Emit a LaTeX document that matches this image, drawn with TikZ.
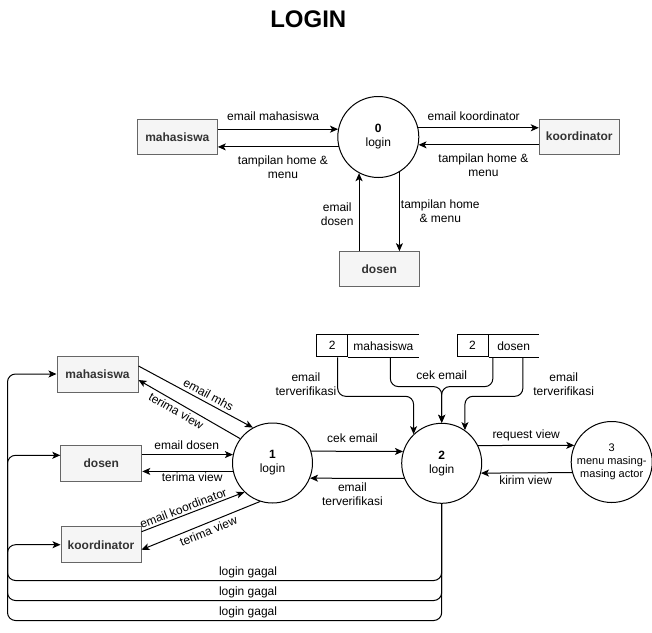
\documentclass[tikz,border=0pt]{standalone}
\usepackage{fontspec}
\setmainfont{Liberation Sans}
\usetikzlibrary{arrows.meta,positioning}
\definecolor{BoxFill}{HTML}{F5F5F5}
\definecolor{BoxLine}{HTML}{666666}
\definecolor{BoxText}{HTML}{333333}

\begin{document}
\begin{tikzpicture}[x=1pt, y=-1pt, line width=1pt, every node/.style={font=\fontsize{12}{14}\selectfont}, entity/.style={draw=BoxLine, fill=BoxFill, text=BoxText, font=\fontsize{12}{14}\selectfont\bfseries, minimum width=80pt, minimum height=35pt, inner sep=0pt}, proc/.style={circle, draw, fill=white, minimum size=81pt, inner sep=0pt, align=center}, flow/.style={-{Stealth[length=8pt,width=7pt,inset=2pt]}}, lbl/.style={align=center, inner sep=1pt}, storeid/.style={draw, minimum width=31pt, minimum height=22pt, inner sep=0pt}, storename/.style={minimum width=#1, minimum height=22pt, inner sep=0pt}]
\useasboundingbox (0,0) rectangle (652,632);
\node[font=\fontsize{24}{28}\selectfont\bfseries] (title) at (308.3,19) {LOGIN};
% context diagram
\node[entity] (m0) at (177.3,137.2) {mahasiswa};
\node[proc] (c0) at (378.3,137) {\textbf{0}\\login};
\node[entity] (k0) at (579.3,136.7) {koordinator};
\node[entity] (d0) at (379.3,269.2) {dosen};
\draw[flow] (m0.east |- c0.169) -- node[lbl, above=7pt, pos=0.46] {email mahasiswa} (c0.169);
\draw[flow] (c0.194) -- node[lbl, below=7pt, pos=0.46] {tampilan home \&\\menu} (c0.194 -| m0.east);
\draw[flow] (c0.13) -- node[lbl, above=6pt, pos=0.46] {email koordinator} (c0.13 -| k0.west);
\draw[flow] (k0.west |- c0.349) -- node[lbl, below=7pt, pos=0.46] {tampilan home \&\\menu} (c0.349);
\draw[flow] (d0.north -| c0.242) -- node[lbl, left=4pt, pos=0.48] {email\\dosen} (c0.242);
\draw[flow] (c0.301) -- node[lbl, right=0pt, pos=0.5] {tampilan home\\\& menu} (c0.301 |- d0.north);
% level 1
\node[entity, minimum width=81pt, minimum height=36pt] (m1) at (97.5,374) {mahasiswa};
\node[entity, minimum width=81pt, minimum height=36pt] (d1) at (101.3,463.3) {dosen};
\node[entity, minimum height=36pt] (k1) at (101,544.7) {koordinator};
\node[proc, minimum size=80pt] (c1) at (272.5,463) {\textbf{1}\\login};
\node[proc, minimum size=80pt] (c2) at (441.7,463.3) {\textbf{2}\\login};
\node[proc, font=\fontsize{11}{13}\selectfont] (c3) at (611.7,462) {3\\menu masing-\\masing actor};
\node[storeid] (s1a) at (332.2,345.8) {2};
\node[storename=69.3pt, right=0pt of s1a] (s1b) {mahasiswa};
\node[storeid] (s2a) at (472.5,345.8) {2};
\node[storename=49.3pt, right=0pt of s2a] (s2b) {dosen};
\draw (s1a.north east) -- (s1b.north east) (s1a.south east) -- (s1b.south east);
\draw (s2a.north east) -- (s2b.north east) (s2a.south east) -- (s2b.south east);
\draw[flow] ([yshift=8pt]m1.east) -- node[lbl, sloped, above=2pt, pos=0.58] {email mhs} (c1.119);
\draw[flow] (c1.143) -- node[lbl, sloped, below=2pt, pos=0.59] {terima view} ([yshift=-6pt]m1.east);
\draw[flow] (d1.east |- c1.168) -- node[lbl, above=3pt, pos=0.49] {email dosen} (c1.168);
\draw[flow] (c1.192) -- node[lbl, below=0pt, pos=0.45] {terima view} (c1.192 -| d1.east);
\draw[flow] ([yshift=13pt]k1.east) -- node[lbl, sloped, above=1pt, pos=0.43] {email koordinator} (c1.226);
\draw[flow] (c1.252) -- node[lbl, sloped, below=2pt, pos=0.46] {terima view} ([yshift=-5pt]k1.east);
\draw[flow] (c1.17) -- node[lbl, above=7pt, pos=0.45] {cek email} (c2.163);
\draw[flow] (c2.202) -- node[lbl, below=3pt, pos=0.55] {email\\terverifikasi} (c1.338);
\draw[flow] (c2.26) -- node[lbl, above=3pt, pos=0.5] {request view} (c3.156);
\draw[flow] (c3.195) -- node[lbl, below=1pt, pos=0.51] {kirim view} (c2.346);
\draw[flow, rounded corners=8] ([xshift=5.5pt]s1a.south) -- node[lbl, left=0pt, pos=0.68] {email\\terverifikasi} ++(0,39) -| (c2.134);
\draw[flow, rounded corners=8] ([xshift=7pt]s1b.south) -- ++(0,29.3) -| node[lbl, above=5pt, pos=0.5] {cek email} (c2.north);
\draw[flow, rounded corners=8] ([xshift=-20.8pt]s2b.south) -- ++(0,29.3) -| (c2.north);
\draw[flow, rounded corners=8] ([xshift=9.2pt]s2b.south) -- node[lbl, right=9pt, pos=0.68] {email\\terverifikasi} ++(0,39) -| (c2.55);
% login gagal
\coordinate (gg) at (7.5,0);
\coordinate (m1in) at (m1.west);
\coordinate (d1in) at ([yshift=8pt]d1.west);
\coordinate (k1in) at (k1.west);
\foreach \dest/\drop in {k1in/76.7,d1in/96.7,m1in/116.7}{\draw[flow, rounded corners=8] (c2.south) -- ++(0,\drop) -| node[lbl, above=1pt, pos=0.223] {login gagal} (gg |- \dest) -- (\dest);}
\end{tikzpicture}
\end{document}
